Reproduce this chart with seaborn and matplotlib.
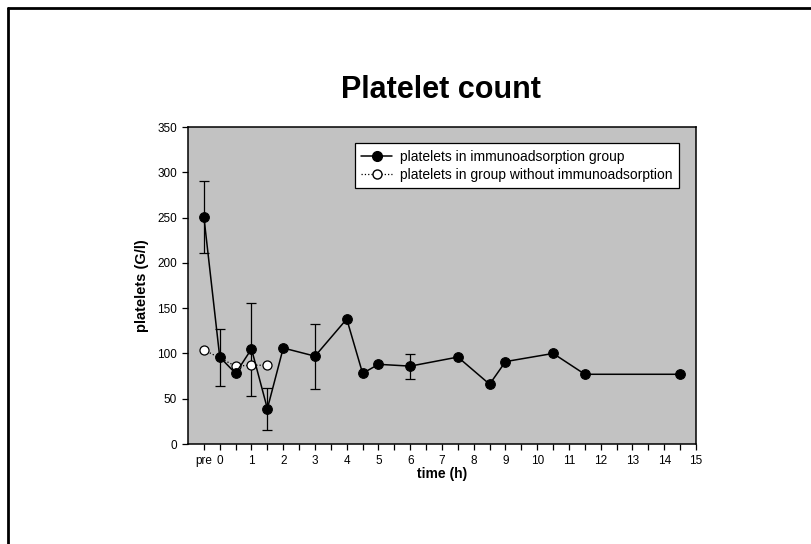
import matplotlib
matplotlib.use("Agg")
import matplotlib.pyplot as plt
import seaborn as sns
import pandas as pd
import numpy as np
from matplotlib.lines import Line2D

# ---- data ----
ia_time = [-0.5, 0, 0.5, 1, 1.5, 2, 3, 4, 4.5, 5, 6, 7.5, 8.5, 9, 10.5, 11.5, 14.5]
ia_platelets = [251, 96, 78, 105, 39, 106, 97, 138, 78, 88, 86, 96, 66, 91, 100, 77, 77]

err_time = [-0.5, 0, 1, 1.5, 3, 6]
err_center = [251, 96, 105, 39, 97, 86]
err_upper = [290, 127, 156, 62, 132, 99]
err_lower = [211, 64, 53, 15, 61, 72]

noia_time = [-0.5, 0.5, 1, 1.5]
noia_platelets = [104, 86, 87, 87]

tick_pos = [-0.5] + list(range(0, 16))
tick_labels = ["pre"] + [str(i) for i in range(0, 16)]
minor_pos = [i + 0.5 for i in range(0, 15)]
y_ticks = [0, 50, 100, 150, 200, 250, 300, 350]

label_ia = "platelets in immunoadsorption group"
label_noia = "platelets in group without immunoadsorption"

sns.set_style("ticks")
plt.rcParams["font.family"] = ["Liberation Sans", "DejaVu Sans"]
plt.rcParams["text.color"] = "black"
plt.rcParams["axes.labelcolor"] = "black"
plt.rcParams["xtick.color"] = "black"
plt.rcParams["ytick.color"] = "black"

fig = plt.figure(figsize=(8.11, 5.44), dpi=100)
ax = fig.add_axes([0.2318, 0.1838, 0.6264, 0.5827])
ax.set_facecolor("#c2c2c2")

df_ia = pd.DataFrame({"time": ia_time, "platelets": ia_platelets})
df_noia = pd.DataFrame({"time": noia_time, "platelets": noia_platelets})

# error bars
yerr = [np.array(err_center) - np.array(err_lower), np.array(err_upper) - np.array(err_center)]
ax.errorbar(err_time, err_center, yerr=yerr, fmt="none", ecolor="black",
            elinewidth=0.9, capsize=3.5, capthick=0.9, zorder=2)

sns.lineplot(data=df_noia, x="time", y="platelets", ax=ax, color="black",
             linestyle=":", linewidth=0.9, marker="o", markersize=6.5,
             markerfacecolor="white", markeredgecolor="black", markeredgewidth=0.9,
             zorder=3, legend=False)
sns.lineplot(data=df_ia, x="time", y="platelets", ax=ax, color="black",
             linewidth=1.1, marker="o", markersize=7,
             markerfacecolor="black", markeredgecolor="black",
             zorder=4, legend=False)

ax.set_xlim(-1, 15)
ax.set_ylim(0, 350)
ax.set_xticks(tick_pos)
ax.set_xticklabels(tick_labels, fontsize=8.5)
ax.set_xticks(minor_pos, minor=True)
ax.set_yticks(y_ticks)
ax.set_yticklabels([str(v) for v in y_ticks], fontsize=8.5)
ax.tick_params(axis="both", which="both", direction="out", length=4, width=0.9,
               color="black")
ax.tick_params(axis="x", which="both", pad=4)
ax.tick_params(axis="y", which="both", pad=4)
for s in ax.spines.values():
    s.set_color("black")
    s.set_linewidth(1.1)

ax.set_xlabel("time (h)", fontsize=10, fontweight="bold", labelpad=0)
ax.set_ylabel("platelets (G/l)", fontsize=10.5, fontweight="bold", labelpad=6)

handles = [
    Line2D([0], [0], color="black", linewidth=1.1, marker="o", markersize=7,
           markerfacecolor="black"),
    Line2D([0], [0], color="black", linewidth=0.9, linestyle=":", marker="o",
           markersize=6.5, markerfacecolor="white", markeredgecolor="black"),
]
leg = ax.legend(handles, [label_ia, label_noia], loc="upper right",
                bbox_to_anchor=(0.98, 0.97), fontsize=10, frameon=True,
                fancybox=False, edgecolor="black", facecolor="white",
                framealpha=1, handlelength=2.2, handletextpad=0.6,
                borderpad=0.45, labelspacing=0.3)
leg.get_frame().set_linewidth(0.9)

fig.text(0.5438, 0.835, "Platelet count", ha="center", va="center",
         fontsize=22, fontweight="bold")

# outer frame (top and left lines)
fig.add_artist(Line2D([0.0099, 1.0], [0.985, 0.985], color="black", linewidth=2,
                      transform=fig.transFigure))
fig.add_artist(Line2D([0.0099, 0.0099], [0.0, 0.985], color="black", linewidth=2,
                      transform=fig.transFigure))

fig.savefig("out.png", dpi=100)
